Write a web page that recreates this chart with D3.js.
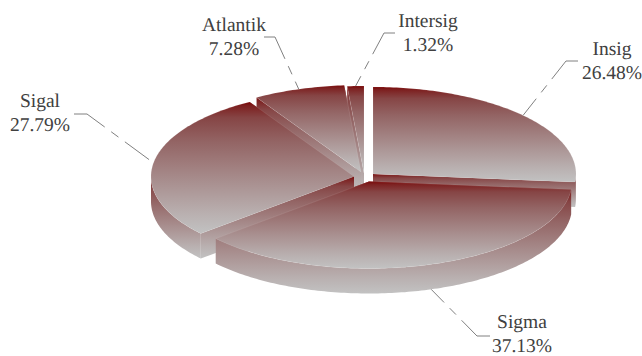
<!DOCTYPE html>
<html>
<head>
<meta charset="utf-8">
<script src="https://cdnjs.cloudflare.com/ajax/libs/d3/7.8.5/d3.min.js"></script>
<style>
  html, body { margin: 0; padding: 0; background: #fff; }
  svg { display: block; }
  text { font-family: "Liberation Serif", serif; font-size: 19.5px; fill: #404040; text-rendering: geometricPrecision; }
</style>
</head>
<body>
<svg id="chart"></svg>
<script>
const categories = ["Insig", "Sigma", "Sigal", "Atlantik", "Intersig"];
const shares = [26.48, 37.13, 27.79, 7.28, 1.32];

// layout, slice by slice: exploded centre, label centre, leader elbow and end
const centres = [[373, 174], [369, 181.5], [354, 176.5], [361, 172], [364, 173]];
const labelPos = [[612, 55], [522, 327.8], [40, 107], [234, 31], [428, 27]];
const elbows = [[566, 61], [477, 336], [87, 114], [275, 37], [384, 33]];
const elbowEnds = [[578, 61], [490, 336], [74, 114], [264, 37], [395, 33]];
const drawOrder = [4, 3, 0, 2, 1];

const width = 642, height = 356;
const rx = 203, ry = 87, depth = 25;

const svg = d3.select("#chart").attr("width", width).attr("height", height);

const slices = d3.pie().sort(null).value(d => d)(shares);

const line = d3.line();
const defs = svg.append("defs");

const grad = defs.append("linearGradient")
    .attr("id", "faceGrad")
    .attr("x1", 0).attr("y1", 0).attr("x2", 0).attr("y2", 1);
[[0, "#780505"], [0.03, "#7d2020"], [0.12, "#864545"], [0.3, "#936464"], [0.6, "#a88e8e"], [0.85, "#b9b0b0"], [1, "#c2c2c2"]]
    .forEach(s => grad.append("stop").attr("offset", s[0]).attr("stop-color", s[1]));

function rim(i, a, drop) {
    return [
        centres[i][0] + rx * Math.sin(a),
        centres[i][1] - ry * Math.cos(a) + (drop || 0)
    ];
}

function arcPoints(i, a0, a1, drop) {
    const n = Math.max(2, Math.ceil((a1 - a0) * 60));
    return d3.range(n + 1).map(k => rim(i, a0 + (a1 - a0) * k / n, drop));
}

function radialWall(i, a) {
    const c = centres[i];
    return line([c, rim(i, a), rim(i, a, depth), [c[0], c[1] + depth]]) + "Z";
}

drawOrder.forEach(i => {
    const s = slices[i];
    const g = svg.append("g").attr("class", "slice");

    // end edge first: the start edge is the one that shows on the left side
    [s.endAngle, s.startAngle].forEach(a => {
        g.append("path")
            .attr("d", radialWall(i, a))
            .attr("fill", "url(#faceGrad)");
    });

    // outer wall, only the part that faces the viewer
    const a0 = Math.max(s.startAngle, Math.PI / 2);
    const a1 = Math.min(s.endAngle, Math.PI * 1.5);
    if (a1 > a0) {
        const pts = arcPoints(i, a0, a1, 0).concat(arcPoints(i, a0, a1, depth).reverse());
        g.append("path")
            .attr("d", line(pts) + "Z")
            .attr("fill", "url(#faceGrad)");
    }

    const top = [centres[i]].concat(arcPoints(i, s.startAngle, s.endAngle, 0));
    g.append("path")
        .attr("d", line(top) + "Z")
        .attr("fill", "url(#faceGrad)")
        .attr("stroke", "#fff")
        .attr("stroke-opacity", 0.2)
        .attr("stroke-width", 0.5);
});

// leader lines are drawn from the label side: long stroke, two short dashes, then the rest
const leaderDrop = [0, depth, 0, 0, 0];
categories.forEach((name, i) => {
    const s = slices[i];
    const mid = (s.startAngle + s.endAngle) / 2;
    svg.append("path")
        .attr("d", line([elbowEnds[i], elbows[i], rim(i, mid, leaderDrop[i])]))
        .attr("fill", "none")
        .attr("stroke", "#808080")
        .attr("stroke-width", 1)
        .attr("stroke-dasharray", "35,8,9,8,30");

    const t = svg.append("text").attr("text-anchor", "middle");
    t.append("tspan").attr("x", labelPos[i][0]).attr("y", labelPos[i][1]).text(name);
    t.append("tspan").attr("x", labelPos[i][0]).attr("y", labelPos[i][1] + 24)
        .text(shares[i].toFixed(2) + "%");
});
</script>
</body>
</html>
